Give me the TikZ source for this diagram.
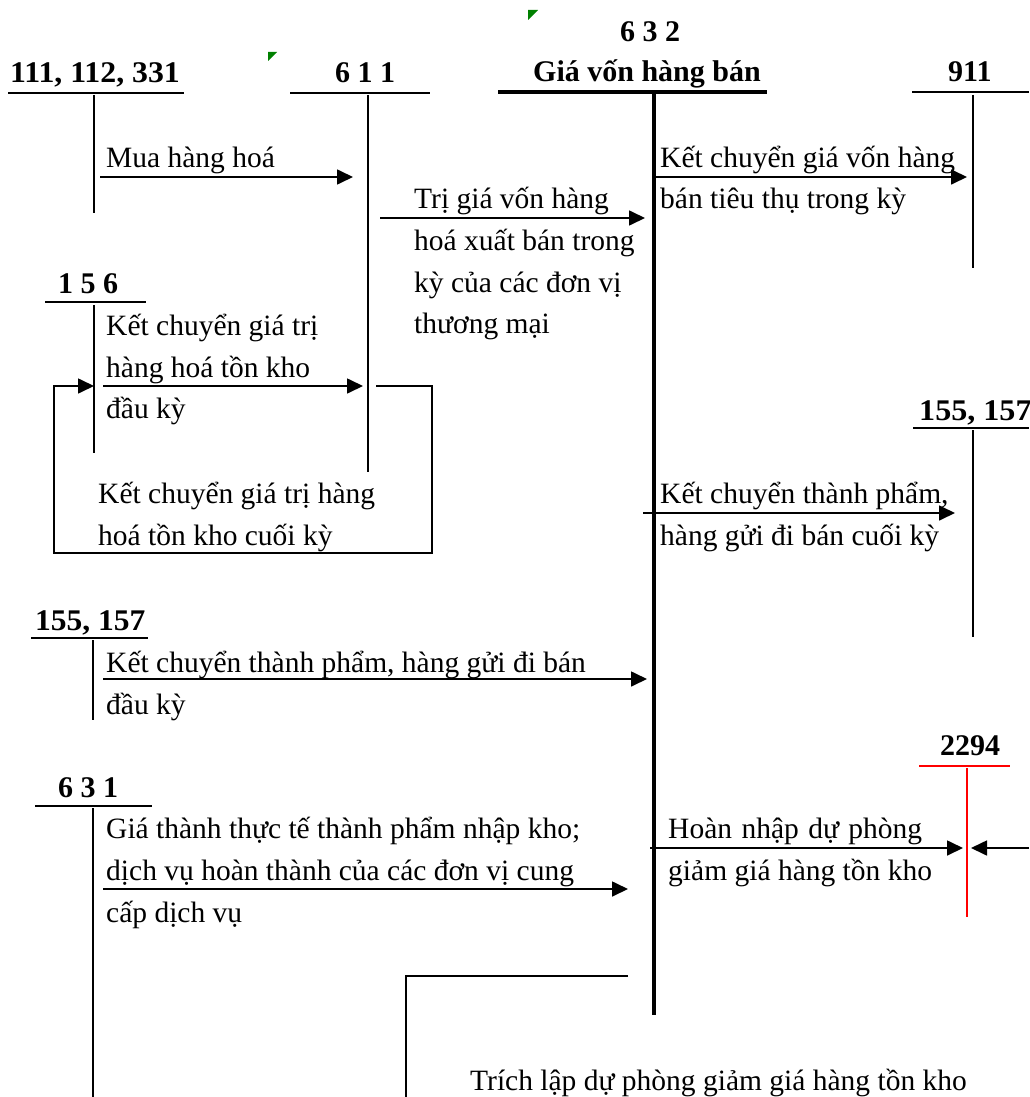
\documentclass[tikz,border=0pt]{standalone}
\usepackage{graphicx}
\usepackage{fontspec}
\setmainfont{Liberation Serif}
\usetikzlibrary{arrows.meta}
\begin{document}
\begin{tikzpicture}[x=1pt,y=-1pt,
  txt/.style={anchor=base west,inner sep=0pt,font=\fontsize{29.5}{41.7}\selectfont},
  lbl/.style={anchor=base west,inner sep=0pt,font=\fontsize{30}{36}\selectfont\bfseries},
  uline/.style={line width=2pt},
  vline/.style={line width=1.4pt},
  arr/.style={line width=1.7pt,-{Triangle[length=16pt,width=15pt]}},
  thickacc/.style={line width=4pt},
  redacc/.style={red,line width=1.6pt},
  greenmark/.style={fill=green!50!black}]
\useasboundingbox (0,0) rectangle (1029,1097);

% ---------- account labels ----------
\node[lbl] (l111) at (10,83) {\scalebox{1.06}[1]{111, 112, 331}};
\node[lbl] (l611) at (335,83) {6 1 1};
\node[lbl] (l632a) at (620,42) {6 3 2};
\node[lbl] (l632b) at (533,82) {Giá vốn hàng bán};
\node[lbl] (l911) at (948,82) {911};
\node[lbl] (l156) at (58,293) {1 5 6};
\node[lbl] (l155r) at (919,420) {\scalebox{1.07}[1]{155, 157}};
\node[lbl] (l155l) at (35,630) {\scalebox{1.05}[1]{155, 157}};
\node[lbl] (l2294) at (940,755) {2294};
\node[lbl] (l631) at (58,797) {6 3 1};

% ---------- T-accounts ----------
\draw[uline] (8,93) -- (184,93);
\draw[vline] (94,95) -- (94,213);
\draw[uline] (290,93) -- (430,93);
\draw[vline] (368,95) -- (368,472);
\draw[line width=3.5pt] (498,92) -- (767,92);
\draw[thickacc] (654,92) -- (654,1015);
\draw[uline] (912,92) -- (1029,92);
\draw[vline] (973,95) -- (973,268);
\draw[uline] (45,302) -- (146,302);
\draw[vline] (94,305) -- (94,453);
\draw[uline] (913,428) -- (1029,428);
\draw[vline] (973,430) -- (973,637);
\draw[uline] (31,638) -- (148,638);
\draw[vline] (93,640) -- (93,720);
\draw[redacc] (919,766) -- (1010,766);
\draw[redacc] (967,768) -- (967,917);
\draw[uline] (35,806) -- (152,806);
\draw[vline] (93,808) -- (93,1097);

% ---------- connector end points ----------
\coordinate (m1) at (100,177); \coordinate (m2) at (353,177);
\coordinate (g1) at (380,218); \coordinate (g2) at (645,218);
\coordinate (k1) at (655,177); \coordinate (k2) at (967,177);
\coordinate (d1) at (103,386); \coordinate (d2) at (363,386);
\coordinate (c1) at (376,386); \coordinate (c2) at (94,386);
\coordinate (p1) at (643,513); \coordinate (p2) at (955,513);
\coordinate (q1) at (103,679); \coordinate (q2) at (647,679);
\coordinate (s1) at (103,889); \coordinate (s2) at (628,889);
\coordinate (h1) at (650,848); \coordinate (h2) at (963,848);
\coordinate (r1) at (1029,848); \coordinate (r2) at (971,848);
\coordinate (b1) at (628,976); \coordinate (b2) at (406,1097);

% ---------- connectors ----------
\draw[arr] (m1) -- (m2);
\draw[arr] (g1) -- (g2);
\draw[arr] (k1) -- (k2);
\draw[arr] (d1) -- (d2);
\draw[arr] (c1) -- (432,386) -- (432,553) -- (54,553) -- (54,386) -- (c2);
\draw[arr] (p1) -- (p2);
\draw[arr] (q1) -- (q2);
\draw[arr] (s1) -- (s2);
\draw[arr] (h1) -- (h2);
\draw[arr] (r1) -- (r2);
\draw[vline] (b1) -| (b2);

% ---------- texts ----------
\node[txt] (t1) at (106,167) {Mua hàng hoá};
\node[txt] (t2a) at (414,208) {Trị giá vốn hàng};
\node[txt] (t2b) at (414,250) {hoá xuất bán trong};
\node[txt] (t2c) at (414,292) {kỳ của các đơn vị};
\node[txt] (t2d) at (414,333) {thương mại};
\node[txt] (t3a) at (660,167) {Kết chuyển giá vốn hàng};
\node[txt] (t3b) at (660,208) {bán tiêu thụ trong kỳ};
\node[txt] (t4a) at (106,335) {Kết chuyển giá trị};
\node[txt] (t4b) at (106,377) {hàng hoá tồn kho};
\node[txt] (t4c) at (106,418) {đầu kỳ};
\node[txt] (t5a) at (98,503) {Kết chuyển giá trị hàng};
\node[txt] (t5b) at (98,545) {hoá tồn kho cuối kỳ};
\node[txt] (t6a) at (660,503) {Kết chuyển thành phẩm,};
\node[txt] (t6b) at (660,545) {hàng gửi đi bán cuối kỳ};
\node[txt] (t7a) at (106,672) {Kết chuyển thành phẩm, hàng gửi đi bán};
\node[txt] (t7b) at (106,714) {đầu kỳ};
\node[txt] (t8a) at (106,838) {Giá thành thực tế thành phẩm nhập kho;};
\node[txt] (t8b) at (106,880) {dịch vụ hoàn thành của các đơn vị cung};
\node[txt] (t8c) at (106,922) {cấp dịch vụ};
\node[txt] (t9a) at (668,838) {\makebox[254pt][s]{Hoàn nhập dự phòng}};
\node[txt] (t9b) at (668,880) {giảm giá hàng tồn kho};
\node[txt] (t10) at (470,1090) {Trích lập dự phòng giảm giá hàng tồn kho};

% ---------- small green markers ----------
\fill[greenmark] (268,52) -- (277,52) -- (268,61) -- cycle;
\fill[greenmark] (528,10) -- (538,10) -- (528,20) -- cycle;
\end{tikzpicture}
\end{document}
